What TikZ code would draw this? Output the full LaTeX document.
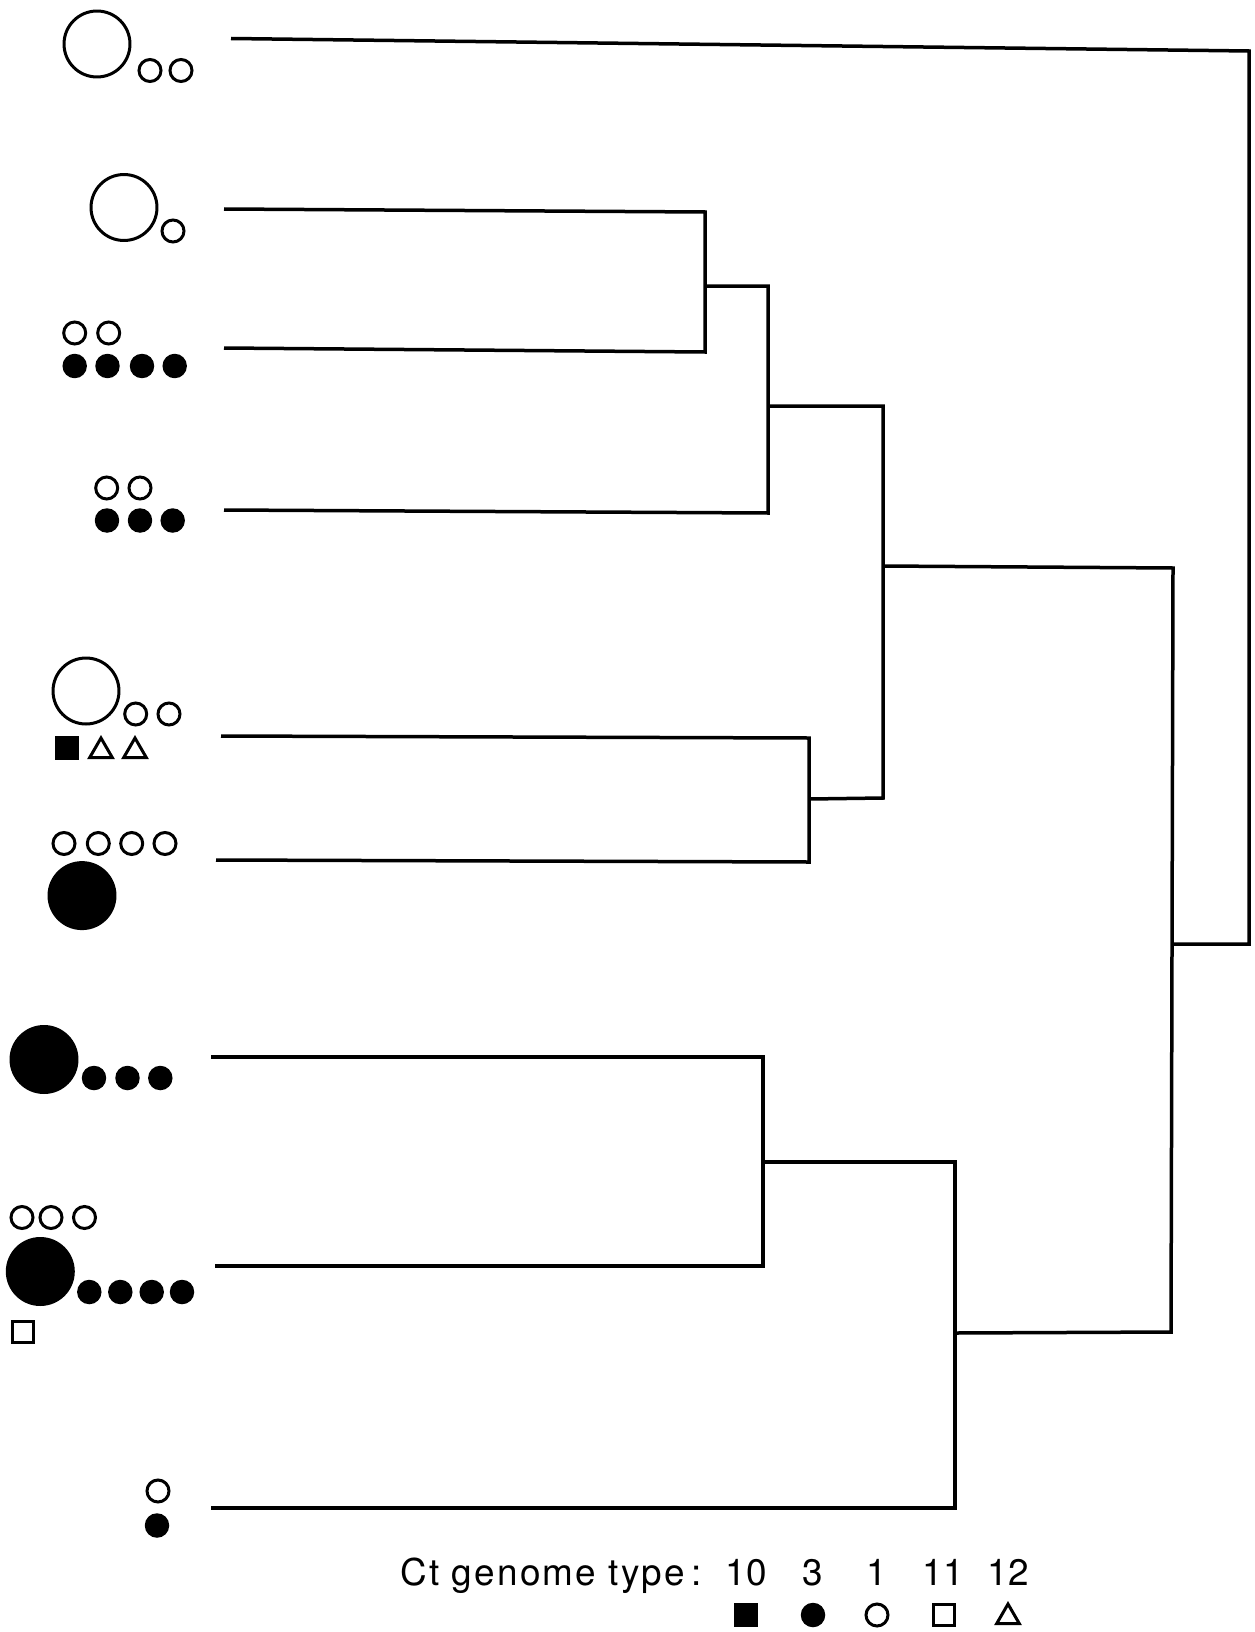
\documentclass[tikz,border=0pt]{standalone}
\usepackage{fontspec}
\setsansfont{TeX Gyre Heros}
\usepackage{tikz}
\usetikzlibrary{shapes.geometric}
\tikzstyle{opendot}=[circle,draw,line width=0.06cm,minimum size=0.44cm,inner sep=0pt]
\tikzstyle{fulldot}=[circle,fill=black,minimum size=0.49cm,inner sep=0pt]
\tikzstyle{bigopen}=[circle,draw,line width=0.06cm,minimum size=1.32cm,inner sep=0pt]
\tikzstyle{bigfull}=[circle,fill=black,minimum size=1.38cm,inner sep=0pt]
\tikzstyle{fullsq}=[rectangle,fill=black,minimum size=0.48cm,inner sep=0pt]
\tikzstyle{opensq}=[rectangle,draw,line width=0.06cm,minimum size=0.42cm,inner sep=0pt]
\tikzstyle{opentri}=[regular polygon,regular polygon sides=3,draw,line width=0.06cm,minimum size=0.52cm,inner sep=0pt]
\tikzstyle{branch}=[draw,line width=0.07cm,line join=miter]
\tikzstyle{legend}=[font=\sffamily\fontsize{21}{25}\selectfont,anchor=base,inner sep=0pt]

\begin{document}
\begin{tikzpicture}[x=0.02cm,y=-0.02cm]

\useasboundingbox (0,0) rectangle (1254,1632);

 %S1
 \node[bigopen] (s1big) at (97,44) {};
 \foreach \x/\y/\name in {150/70.5/s1a, 181/70.5/s1b}
          \node[opendot] (\name) at (\x,\y) {};

 %S2
 \node[bigopen] (s2big) at (124,207.5) {};
 \node[opendot] (s2a) at (173,231) {};

 %S3
 \foreach \x/\y/\name in {74.7/333/s3a, 108.7/333/s3b}
          \node[opendot] (\name) at (\x,\y) {};
 \foreach \x/\y/\name in {74.7/366/s3c, 107.5/366/s3d, 142/366/s3e, 174.7/366/s3f}
          \node[fulldot] (\name) at (\x,\y) {};

 %S4
 \foreach \x/\y/\name in {106.7/488/s4a, 140/488/s4b}
          \node[opendot] (\name) at (\x,\y) {};
 \foreach \x/\y/\name in {107/520.5/s4c, 140/520.5/s4d, 172.7/520.5/s4e}
          \node[fulldot] (\name) at (\x,\y) {};

 %S5
 \node[bigopen] (s5big) at (86,691) {};
 \foreach \x/\y/\name in {135.7/714/s5a, 169/714/s5b}
          \node[opendot] (\name) at (\x,\y) {};
 \node[fullsq] (s5c) at (66.7,748) {};
 \foreach \x/\y/\name in {101/751/s5d, 135/751/s5e}
          \node[opentri] (\name) at (\x,\y) {};

 %S6
 \foreach \x/\y/\name in {64/843.5/s6a, 98.3/843.5/s6b, 131.7/843.5/s6c, 165/843.5/s6d}
          \node[opendot] (\name) at (\x,\y) {};
 \node[bigfull] (s6big) at (82,895.6) {};

 %S7
 \node[bigfull] (s7big) at (44,1059.5) {};
 \foreach \x/\y/\name in {94/1078/s7a, 127.5/1078/s7b, 160.3/1078/s7c}
          \node[fulldot] (\name) at (\x,\y) {};

 %S8
 \foreach \x/\y/\name in {22/1217.5/s8a, 51/1217.5/s8b, 84.5/1217.5/s8c}
          \node[opendot] (\name) at (\x,\y) {};
 \node[bigfull] (s8big) at (40.3,1271.5) {};
 \foreach \x/\y/\name in {89.3/1292/s8d, 120.3/1292/s8e, 151.7/1292/s8f, 182/1292/s8g}
          \node[fulldot] (\name) at (\x,\y) {};
 \node[opensq] (s8h) at (22.7,1332) {};

 %S9
 \node[opendot] (s9a) at (158,1491) {};
 \node[fulldot] (s9b) at (157,1525.5) {};

 % leaf ends of the tree
 \foreach \x/\y/\name in {231/38.5/l1, 224/209/l2, 224/348/l3, 224/510/l4, 221/736/l5,
                          216/860/l6, 211/1057/l7, 215/1266/l8, 211/1508/l9}
          \coordinate (\name) at (\x,\y);

 % corners and joins
 \foreach \x/\y/\name in {705/212/a1, 705/352/a2, 705/286/a,
                          768/286/b1, 768/513/b2, 768/406/b,
                          809/738/c1, 809/862/c2, 809/799/c,
                          883/406/d1, 883/798/d2, 883/566/d,
                          763/1057/e1, 763/1266/e2, 763/1162/e,
                          955/1162/f1, 955/1508/f2, 955/1333/f,
                          1173/568/g1, 1171/1332/g2, 1172/944/g,
                          1249/51/r1, 1249/944/r2}
          \coordinate (\name) at (\x,\y);

 \foreach \p/\q/\r/\s in {l1/r1/r2/g, l2/a1/a2/l3, a/b1/b2/l4, b/d1/d2/c,
                          l5/c1/c2/l6, l7/e1/e2/l8, e/f1/f2/l9, d/g1/g2/f}
         \path[branch] (\p) -- (\q) -- (\r) -- (\s);

 % key
 \node[legend,anchor=base west] (key) at (400,1585)
      {\addfontfeatures{LetterSpace=6}Ct genome type\,:};
 \foreach \x/\name/\label in {746/t10/10, 813/t3/3, 877/t1/1, 943/t11/11, 1008/t12/12}
          \node[legend] (\name) at (\x,1585) {\label};
 \node[fullsq] (k10) at (746,1615) {};
 \node[fulldot] (k3) at (813,1615) {};
 \node[opendot] (k1) at (877,1615) {};
 \node[opensq] (k11) at (944,1615) {};
 \node[opentri] (k12) at (1008,1617) {};

\end{tikzpicture}
\end{document}
